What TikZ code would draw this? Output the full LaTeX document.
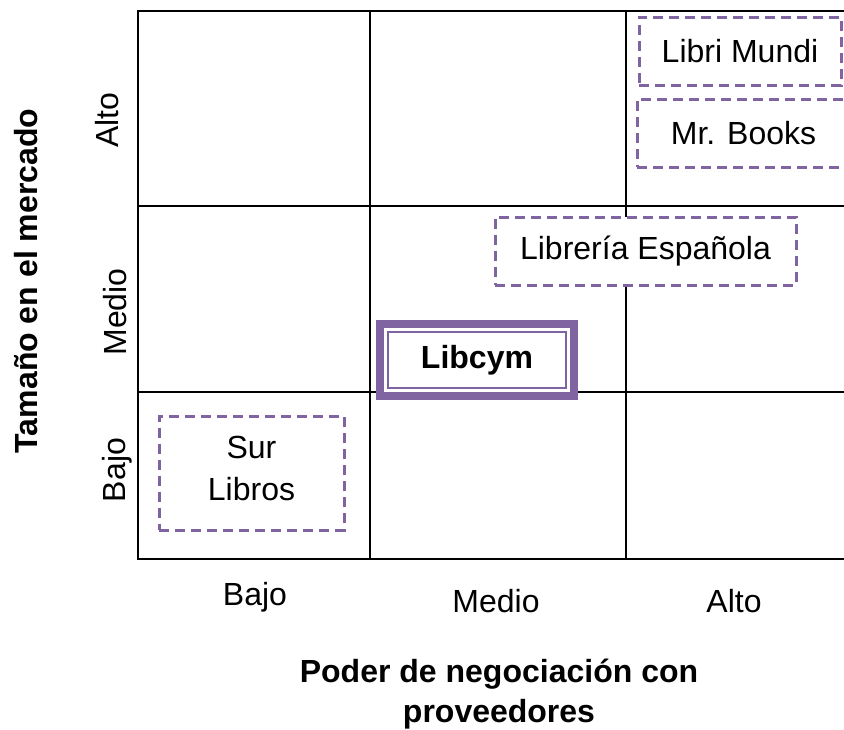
\documentclass[tikz,border=0pt]{standalone}
\usepackage{fontspec}
\setmainfont{Liberation Sans}
\definecolor{lilac}{HTML}{8064A2}
\tikzset{
  gridline/.style={draw=black, line width=2pt},
  lbl/.style={font=\fontsize{32pt}{42pt}\selectfont, inner sep=0pt},
  dbox/.style={draw=lilac, line width=3pt, dash pattern=on 10pt off 6pt, fill=white,
               font=\fontsize{32pt}{42pt}\selectfont, inner sep=0pt, align=center},
  mainbox/.style={draw=lilac, line width=8pt, fill=white, outer sep=0pt,
               font=\bfseries\fontsize{32pt}{42pt}\selectfont, inner sep=0pt}
}
\begin{document}
\begin{tikzpicture}[x=1pt,y=-1pt]
\useasboundingbox (0,0) rectangle (844,729);
\begin{scope}
\clip (0,0) rectangle (844,729);
% grid
\draw[gridline] (844,11) -- (138,11) -- (138,559) -- (844,559);
\draw[gridline] (138,206) -- (844,206);
\draw[gridline] (138,392) -- (844,392);
\draw[gridline] (370,11) -- (370,559);
\draw[gridline] (626,11) -- (626,559);
% boxes
\node[dbox, minimum width=202pt, minimum height=68pt] (lm) at (740,51) {Libri Mundi};
\node[dbox, minimum width=213pt, minimum height=68pt] (mb) at (743.5,133) {Mr. Books};
\node[dbox, minimum width=301pt, minimum height=68pt] (le) at (645.5,251) {Librería Española};
\node[dbox, minimum width=185pt, minimum height=114pt] (sl) at (251.5,473) {Sur\\Libros\rule[-10pt]{0pt}{10pt}};
\node[mainbox, minimum width=194pt, minimum height=72pt] (lc) at (477,360) {Libcym};
\draw[draw=lilac, line width=2pt] ([shift={(8pt,-8pt)}]lc.north west) rectangle ([shift={(-8pt,8pt)}]lc.south east);
\end{scope}
% axis labels
\node[lbl, rotate=90, anchor=base] (ya) at (118,120) {Alto};
\node[lbl, rotate=90, anchor=base] (ym) at (126,312) {Medio};
\node[lbl, rotate=90, anchor=base] (yb) at (125,470) {Bajo};
\node[lbl, anchor=base] (xb) at (255,605) {Bajo};
\node[lbl, anchor=base] (xm) at (496,612) {Medio};
\node[lbl, anchor=base] (xa) at (734,612) {Alto};
\node[lbl, font=\bfseries\fontsize{32pt}{41pt}\selectfont, rotate=90, anchor=base] (yt) at (37,281) {Tamaño en el mercado};
\node[lbl, font=\bfseries\fontsize{32pt}{40pt}\selectfont, align=center, anchor=base] (xt) at (499,722) {Poder de negociación con\\proveedores};
\end{tikzpicture}
\end{document}
